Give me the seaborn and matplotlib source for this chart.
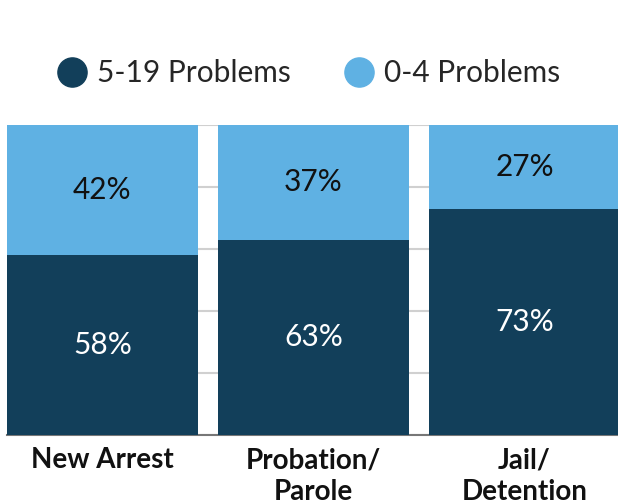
import matplotlib
matplotlib.use("Agg")
import matplotlib.pyplot as plt
from matplotlib.lines import Line2D
import seaborn as sns
import pandas as pd

categories = ["New Arrest", "Probation/\nParole", "Jail/\nDetention"]
high_problems = [58, 63, 73]   # 5-19 Problems
low_problems = [42, 37, 27]    # 0-4 Problems
series_names = ["5-19 Problems", "0-4 Problems"]
colors = ["#123f5a", "#5fb1e3"]

sns.set_theme(style="white")
plt.rcParams['font.family'] = ['Lato', 'DejaVu Sans']

fig = plt.figure(figsize=(6.18, 5.04), dpi=100)
ax = fig.add_axes([7 / 618, 0.137, 611 / 618, 0.615])

df = pd.DataFrame({"cat": categories, "high": high_problems,
                   "total": [h + l for h, l in zip(high_problems, low_problems)]})
sns.barplot(data=df, x="cat", y="total", color=colors[1], width=0.905, ax=ax, zorder=3,
            saturation=1, linewidth=0)
sns.barplot(data=df, x="cat", y="high", color=colors[0], width=0.905, ax=ax, zorder=4,
            saturation=1, linewidth=0)

for i, (h, l) in enumerate(zip(high_problems, low_problems)):
    ax.text(i, h / 2, f"{h}%", ha="center", va="center", color="white", fontsize=21.5, zorder=5)
    ax.text(i, h + l / 2, f"{l}%", ha="center", va="center", color="#111111", fontsize=21.5, zorder=5)

ax.set_ylim(0, 100)
ax.set_xlim(-0.4525, 2.443)
ax.set_yticks([0, 20, 40, 60, 80, 100])
ax.yaxis.grid(True, color="#d0d0d0", linewidth=1.5, zorder=0)
ax.set_yticklabels([])
ax.tick_params(axis="y", length=0)
ax.tick_params(axis="x", length=0, pad=9)
for lab in ax.get_xticklabels():
    lab.set_fontweight("bold")
    lab.set_fontsize(20)
    lab.set_color("#111111")
    lab.set_linespacing(1.25)
ax.set_xlabel("")
ax.set_ylabel("")
for s in ["top", "right", "left"]:
    ax.spines[s].set_visible(False)
ax.spines["bottom"].set_color("#777777")
ax.spines["bottom"].set_linewidth(1.5)
ax.spines["bottom"].set_zorder(2)

handles = [Line2D([0], [0], marker="o", linestyle="", markersize=21, markerfacecolor=c, markeredgecolor=c)
           for c in colors]
fig.legend(handles, series_names, loc="center", bbox_to_anchor=(0.497, 0.855), ncol=2, frameon=False,
           fontsize=21.5, handletextpad=0.25, columnspacing=1.67, handlelength=1.2)

fig.savefig("out.png", dpi=100)
